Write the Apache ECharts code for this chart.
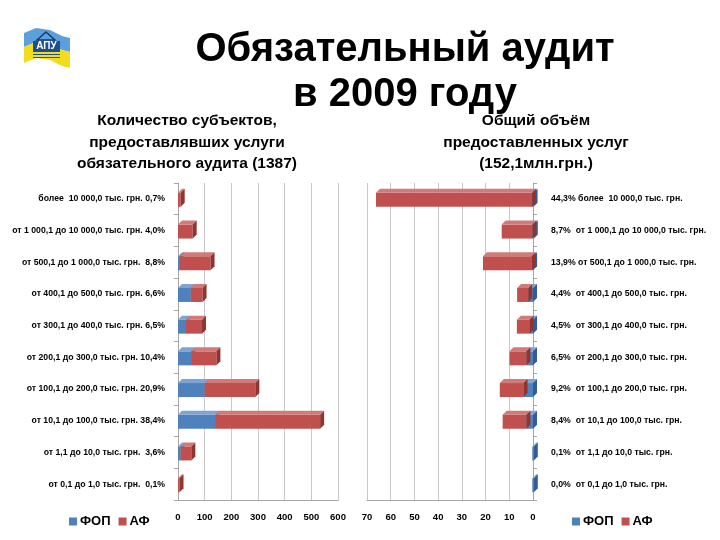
<!DOCTYPE html>
<html>
<head>
<meta charset="utf-8">
<script src="https://cdn.jsdelivr.net/npm/echarts@6/dist/echarts.min.js"></script>
<style>
  html, body { margin: 0; padding: 0; background: #fff; }
  #chart { width: 720px; height: 540px; }
</style>
</head>
<body>
<div id="chart"></div>
<script>
// left chart: number of audit subjects by revenue band
const leftLabels = [
  'более  10 000,0 тыс. грн. 0,7%',
  'от 1 000,1 до 10 000,0 тыс. грн. 4,0%',
  'от 500,1 до 1 000,0 тыс. грн.  8,8%',
  'от 400,1 до 500,0 тыс. грн. 6,6%',
  'от 300,1 до 400,0 тыс. грн. 6,5%',
  'от 200,1 до 300,0 тыс. грн. 10,4%',
  'от 100,1 до 200,0 тыс. грн. 20,9%',
  'от 10,1 до 100,0 тыс. грн. 38,4%',
  'от 1,1 до 10,0 тыс. грн.  3,6%',
  'от 0,1 до 1,0 тыс. грн.  0,1%'
];
const leftFop = [0, 0, 5, 48, 30, 50, 100, 140, 10, 0];
const leftAf = [10, 55, 117, 44, 60, 94, 190, 393, 40, 4];

// right chart: total volume of services, mln UAH
const rightLabels = [
  '44,3% более  10 000,0 тыс. грн.',
  '8,7%  от 1 000,1 до 10 000,0 тыс. грн.',
  '13,9% от 500,1 до 1 000,0 тыс. грн.',
  '4,4%  от 400,1 до 500,0 тыс. грн.',
  '4,5%  от 300,1 до 400,0 тыс. грн.',
  '6,5%  от 200,1 до 300,0 тыс. грн.',
  '9,2%  от 100,1 до 200,0 тыс. грн.',
  '8,4%  от 10,1 до 100,0 тыс. грн.',
  '0,1%  от 1,1 до 10,0 тыс. грн.',
  '0,0%  от 0,1 до 1,0 тыс. грн.'
];
const rightFop = [0.4, 0.3, 0.6, 2, 1.5, 2.8, 4, 2.8, 0.3, 0.3];
const rightAf = [65.8, 12.9, 20.5, 4.7, 5.3, 7.1, 10, 10, 0, 0];

const colors = {
  'ФОП': { front: '#4f81bd', top: '#7fa3d3', side: '#335d92' },
  'АФ': { front: '#c0504d', top: '#d27a77', side: '#8e3431' }
};
const labelFont = '"Liberation Sans", Arial, sans-serif';

const chart = echarts.init(document.getElementById('chart'));

// stacked segments [start, end, categoryIndex]
function segments(first, second) {
  const a = [], b = [];
  first.forEach((v, i) => {
    a.push([0, v, i]);
    b.push([v, v + second[i], i]);
  });
  return [a, b];
}

// 3d-ish box bar: front face, top face and end face
function renderBox(name) {
  const c = colors[name];
  return function (params, api) {
    const s = api.value(0), e = api.value(1), cat = api.value(2);
    if (e - s <= 0) return null;
    const p0 = api.coord([s, cat]);
    const p1 = api.coord([e, cat]);
    const xl = Math.min(p0[0], p1[0]);
    let xr = Math.max(p0[0], p1[0]);
    if (xr - xl < 1.5) xr = xl + 1.5;
    const h = 14, d = 4;
    const top = p0[1] - h / 2 + 1, bot = top + h;
    return {
      type: 'group',
      children: [
        { type: 'rect', shape: { x: xl, y: top, width: xr - xl, height: h }, style: { fill: c.front } },
        { type: 'polygon', shape: { points: [[xl, top], [xr, top], [xr + d, top - d], [xl + d, top - d]] }, style: { fill: c.top } },
        { type: 'polygon', shape: { points: [[xr, top], [xr + d, top - d], [xr + d, bot - d], [xr, bot]] }, style: { fill: c.side } }
      ]
    };
  };
}

const catAxis = (labels, gridIndex, pos, align) => ({
  type: 'category',
  gridIndex: gridIndex,
  data: labels,
  inverse: true,
  position: pos,
  axisLine: { show: true, lineStyle: { color: '#a6a6a6' } },
  axisTick: { show: true, length: 4, lineStyle: { color: '#a6a6a6' } },
  axisLabel: {
    margin: pos === 'left' ? 13 : 18,
    align: align,
    fontFamily: labelFont,
    fontWeight: 'bold',
    fontSize: 8.7,
    color: '#000'
  }
});

const valAxis = (gridIndex, max, interval, inverse) => ({
  type: 'value',
  gridIndex: gridIndex,
  min: 0,
  max: max,
  interval: interval,
  inverse: inverse,
  axisLine: { show: true, lineStyle: { color: '#a6a6a6' } },
  axisTick: { show: false },
  splitLine: { show: true, lineStyle: { color: '#c8c8c8' } },
  axisLabel: {
    margin: 12,
    fontFamily: labelFont,
    fontWeight: 'bold',
    fontSize: 9.5,
    color: '#000'
  }
});

const box = (name, data, idx) => ({
  name: name,
  type: 'custom',
  xAxisIndex: idx,
  yAxisIndex: idx,
  data: data,
  encode: { x: [0, 1], y: 2 },
  itemStyle: { color: colors[name].front },
  renderItem: renderBox(name),
  animation: false
});

const leftSeg = segments(leftFop, leftAf);
const rightSeg = segments(rightFop, rightAf);

const legendBase = {
  data: ['ФОП', 'АФ'],
  top: 510,
  itemWidth: 8,
  itemHeight: 8,
  itemGap: 8,
  icon: 'rect',
  textStyle: { fontFamily: labelFont, fontWeight: 'bold', fontSize: 13, color: '#000', padding: [0, 0, 0, -2] }
};

const option = {
  backgroundColor: '#fff',
  title: [
    {
      text: 'Обязательный аудит\nв 2009 году',
      left: 400,
      top: 22,
      textAlign: 'center',
      textStyle: { fontFamily: labelFont, fontWeight: 'bold', fontSize: 40, lineHeight: 45, color: '#000' }
    },
    {
      text: 'Количество субъектов,\nпредоставлявших услуги\nобязательного аудита (1387)',
      left: 182,
      top: 105,
      textAlign: 'center',
      textStyle: { fontFamily: labelFont, fontWeight: 'bold', fontSize: 15.5, lineHeight: 21.5, color: '#000' }
    },
    {
      text: 'Общий объём\nпредоставленных услуг\n(152,1млн.грн.)',
      left: 531,
      top: 105,
      textAlign: 'center',
      textStyle: { fontFamily: labelFont, fontWeight: 'bold', fontSize: 15.5, lineHeight: 21.5, color: '#000' }
    }
  ],
  legend: [
    Object.assign({ left: 64 }, legendBase),
    Object.assign({ left: 567 }, legendBase)
  ],
  grid: [
    { left: 178, top: 183, width: 160, height: 317 },
    { left: 367, top: 183, width: 166, height: 317 }
  ],
  xAxis: [valAxis(0, 600, 100, false), valAxis(1, 70, 10, true)],
  yAxis: [catAxis(leftLabels, 0, 'left', 'right'), catAxis(rightLabels, 1, 'right', 'left')],
  series: [
    box('ФОП', leftSeg[0], 0),
    box('АФ', leftSeg[1], 0),
    box('ФОП', rightSeg[0], 1),
    box('АФ', rightSeg[1], 1)
  ],
  graphic: [
    // logo flag
    {
      type: 'polygon',
      shape: { points: [[24, 33], [36, 28], [50, 30], [62, 36], [70, 38], [70, 52], [62, 50], [50, 44], [36, 42], [24, 47]] },
      style: { fill: '#5aa0dc' }
    },
    {
      type: 'polygon',
      shape: { points: [[24, 47], [36, 42], [50, 44], [62, 50], [70, 52], [70, 68], [62, 66], [50, 60], [36, 58], [24, 63]] },
      style: { fill: '#f2dc1e' }
    },
    {
      type: 'polygon',
      shape: { points: [[37, 40], [46, 32], [55, 40]] },
      style: { fill: 'none', stroke: '#1a3a6a', lineWidth: 1.5 }
    },
    {
      type: 'rect',
      shape: { x: 33, y: 41, width: 27, height: 11 },
      style: { fill: '#1f4e8c' }
    },
    {
      type: 'text',
      style: { text: 'АПУ', x: 46.5, y: 46.5, align: 'center', verticalAlign: 'middle', fill: '#fff', font: 'bold 10px Liberation Sans' }
    },
    {
      type: 'rect',
      shape: { x: 33, y: 54, width: 27, height: 1 },
      style: { fill: '#1f4e8c' }
    },
    {
      type: 'rect',
      shape: { x: 33, y: 57, width: 27, height: 1 },
      style: { fill: '#1f4e8c' }
    }
  ]
};

chart.setOption(option);
</script>
</body>
</html>
